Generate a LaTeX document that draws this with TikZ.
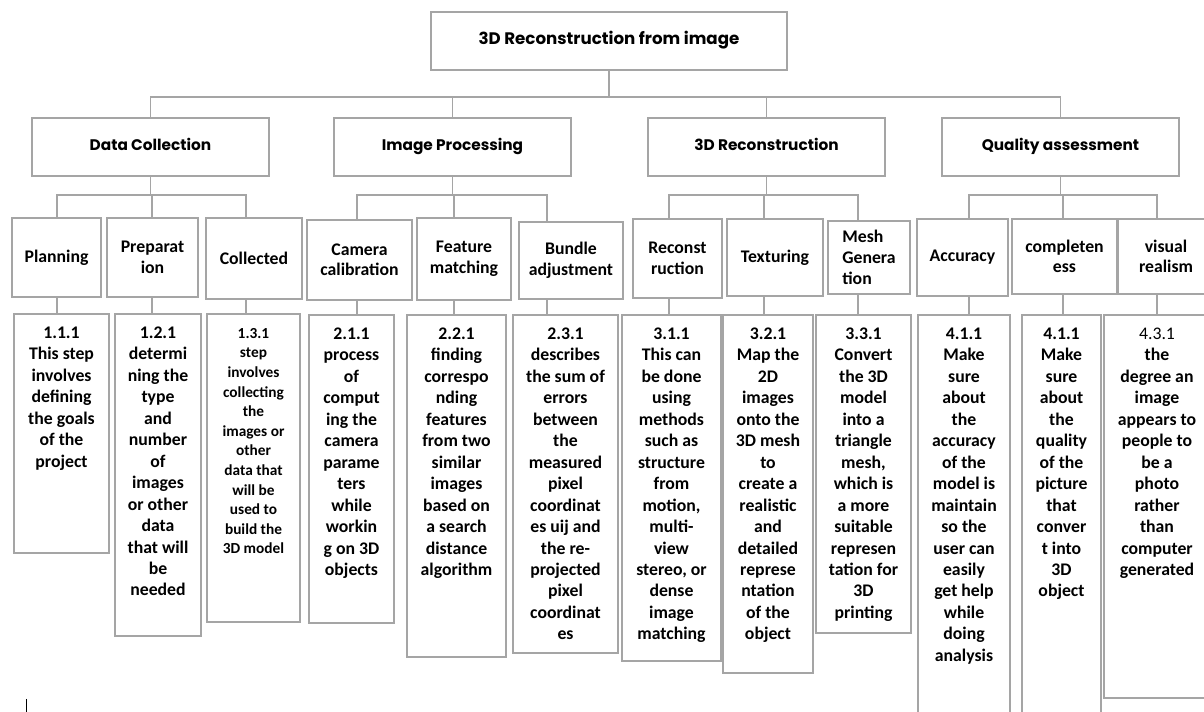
\documentclass[tikz,border=0pt]{standalone}
\usepackage{fontspec}
\setmainfont{Carlito}
\newfontfamily\gothic{Poppins}
\definecolor{boxgray}{RGB}{165,165,165}

\tikzstyle{box} = [draw=boxgray, line width=1.3pt, fill=white, inner sep=0pt, anchor=north, align=center]
\tikzstyle{rootbox} = [box, text height=0.75em, text depth=0.25em, font=\gothic\bfseries\fontsize{12.5}{14}\selectfont]
\tikzstyle{mainbox} = [box, minimum width=177.75pt, minimum height=43.5pt, text height=0.75em, text depth=0.25em, font=\gothic\bfseries\fontsize{11.5}{13}\selectfont]
\tikzstyle{subbox} = [box, font=\bfseries\fontsize{13.3}{15.5}\selectfont]
\tikzstyle{leafbox} = [box, font=\bfseries\fontsize{13.3}{16.1}\selectfont]
\tikzstyle{link} = [draw=boxgray, line width=1.3pt]

\newcommand{\leaftext}[3]{\parbox[t][#2][t]{#1}{\centering\rule{0pt}{18.4pt}#3}}

\begin{document}
\begin{tikzpicture}[x=0.75pt, y=-0.75pt]
\useasboundingbox (0,0) rectangle (1204,712);

\node[rootbox, minimum width=267pt, minimum height=43.5pt] (root) at (609,11) {3D Reconstruction from image};

\node[mainbox] (dc) at (150.5,117) {Data Collection};
\node[mainbox] (ip) at (452.5,117) {Image Processing};
\node[mainbox] (rc) at (766.5,117) {3D Reconstruction};
\node[mainbox] (qa) at (1060.5,117) {Quality assessment};

\coordinate (t11) at (57,0);
\coordinate (t12) at (152,0);
\coordinate (t13) at (246,0);
\coordinate (t21) at (357,0);
\coordinate (t22) at (454,0);
\coordinate (t23) at (547,0);
\coordinate (t31) at (669,0);
\coordinate (t32) at (764,0);
\coordinate (t33) at (858,0);
\coordinate (t41) at (969,0);
\coordinate (t42) at (1063,0);
\coordinate (t43) at (1157,0);

\node[subbox, minimum width=66.75pt, minimum height=59.25pt] (pl) at (56.5,217) {Planning};
\node[subbox, minimum width=68.25pt, minimum height=59.25pt] (pr) at (152.5,217) {Preparat\\ion};
\node[subbox, minimum width=72pt, minimum height=60.75pt] (co) at (254,217) {Collected};
\node[subbox, minimum width=78.75pt, minimum height=60pt] (cc) at (359.5,219) {Camera\\calibration};
\node[subbox, minimum width=70.5pt, minimum height=61.5pt] (fm) at (464,217) {Feature\\matching};
\node[subbox, minimum width=78pt, minimum height=57.75pt] (ba) at (571,221) {Bundle\\adjustment};
\node[subbox, minimum width=66.75pt, minimum height=59.25pt] (re) at (677.5,218) {Reconst\\ruction};
\node[subbox, minimum width=72pt, minimum height=57.75pt] (te) at (775,218) {Texturing};
\node[subbox, minimum width=61.5pt, minimum height=54.75pt, align=left] (me) at (869,220) {Mesh\\Genera\\tion};
\node[subbox, minimum width=68.25pt, minimum height=57.75pt] (ac) at (962.5,218) {Accuracy};
\node[subbox, minimum width=78.75pt, minimum height=56.25pt] (cm) at (1064.5,218) {completen\\ess};
\node[subbox, minimum width=72pt, minimum height=56.25pt] (vr) at (1166,218) {visual\\realism};

\node[leafbox] (d11) at (61.5,313) {\leaftext{71.25pt}{179.25pt}{1.1.1\\This step\\involves\\defining\\the goals\\of the\\project}};
\node[leafbox] (d12) at (158,313) {\leaftext{64.5pt}{241.5pt}{1.2.1\\determi\\ning the\\type\\and\\number\\of\\images\\or other\\data\\that will\\be\\needed}};
\node[leafbox, font=\bfseries\fontsize{11.5}{14.7}\selectfont] (d13) at (253.5,313) {\leaftext{69.75pt}{231pt}{1.3.1\\step\\involves\\collecting\\the\\images or\\other\\data that\\will be\\used to\\build the\\3D model}};
\node[leafbox] (d21) at (351.5,314) {\leaftext{63.75pt}{231pt}{2.1.1\\process\\of\\comput\\ing the\\camera\\parame\\ters\\while\\workin\\g on 3D\\objects}};
\node[leafbox] (d22) at (456.5,314) {\leaftext{74.25pt}{256.5pt}{2.2.1\\finding\\correspo\\nding\\features\\from two\\similar\\images\\based on\\a search\\distance\\algorithm}};
\node[leafbox] (d23) at (565.5,314) {\leaftext{78.75pt}{253.5pt}{2.3.1\\describes\\the sum of\\errors\\between\\the\\measured\\pixel\\coordinat\\es uij and\\the re-\\projected\\pixel\\coordinat\\es}};
\node[leafbox] (d31) at (671.5,314) {\leaftext{74.25pt}{259.5pt}{3.1.1\\This can\\be done\\using\\methods\\such as\\structure\\from\\motion,\\multi-\\view\\stereo, or\\dense\\image\\matching}};
\node[leafbox] (d32) at (768,314) {\leaftext{67.5pt}{268.5pt}{3.2.1\\Map the\\2D\\images\\onto the\\3D mesh\\to\\create a\\realistic\\and\\detailed\\represe\\ntation\\of the\\object}};
\node[leafbox] (d33) at (863.5,314) {\leaftext{71.25pt}{238.5pt}{3.3.1\\Convert\\the 3D\\model\\into a\\triangle\\mesh,\\which is\\a more\\suitable\\represen\\tation for\\3D\\printing}};
\node[leafbox] (d41) at (964,314) {\leaftext{69pt}{315pt}{4.1.1\\Make\\sure\\about\\the\\accuracy\\of the\\model is\\maintain\\so the\\user can\\easily\\get help\\while\\doing\\analysis}};
\node[leafbox] (d42) at (1061.5,314) {\leaftext{59.25pt}{315pt}{4.1.1\\Make\\sure\\about\\the\\quality\\of the\\picture\\that\\conver\\t into\\3D\\object}};
\node[leafbox] (d43) at (1157,314) {\leaftext{79.5pt}{287.25pt}{{\mdseries 4.3.1}\\the\\degree an\\image\\appears to\\people to\\be a\\photo\\rather\\than\\computer\\generated}};

\draw[link] (root.south) -- ++(0,26) -| (dc.north);
\draw[link] (root.south) -- ++(0,26) -| (ip.north);
\draw[link] (root.south) -- ++(0,26) -| (rc.north);
\draw[link] (root.south) -- ++(0,26) -| (qa.north);

\draw[link] (dc.south) -- ++(0,18) -| (t11 |- pl.north);
\draw[link] (dc.south) -- ++(0,18) -| (t12 |- pr.north);
\draw[link] (dc.south) -- ++(0,18) -| (t13 |- co.north);
\draw[link] (ip.south) -- ++(0,18) -| (t21 |- cc.north);
\draw[link] (ip.south) -- ++(0,18) -| (t22 |- fm.north);
\draw[link] (ip.south) -- ++(0,18) -| (t23 |- ba.north);
\draw[link] (rc.south) -- ++(0,18) -| (t31 |- re.north);
\draw[link] (rc.south) -- ++(0,18) -| (t32 |- te.north);
\draw[link] (rc.south) -- ++(0,18) -| (t33 |- me.north);
\draw[link] (qa.south) -- ++(0,18) -| (t41 |- ac.north);
\draw[link] (qa.south) -- ++(0,18) -| (t42 |- cm.north);
\draw[link] (qa.south) -- ++(0,18) -| (t43 |- vr.north);

\draw[link] (t11 |- pl.south) -- (t11 |- d11.north);
\draw[link] (t12 |- pr.south) -- (t12 |- d12.north);
\draw[link] (t13 |- co.south) -- (t13 |- d13.north);
\draw[link] (t21 |- cc.south) -- (t21 |- d21.north);
\draw[link] (t22 |- fm.south) -- (t22 |- d22.north);
\draw[link] (t23 |- ba.south) -- (t23 |- d23.north);
\draw[link] (t31 |- re.south) -- (t31 |- d31.north);
\draw[link] (t32 |- te.south) -- (t32 |- d32.north);
\draw[link] (t33 |- me.south) -- (t33 |- d33.north);
\draw[link] (t41 |- ac.south) -- (t41 |- d41.north);
\draw[link] (t42 |- cm.south) -- (t42 |- d42.north);
\draw[link] (t43 |- vr.south) -- (t43 |- d43.north);

\draw[line width=0.6pt] (26,699) -- (26,712);
\end{tikzpicture}
\end{document}
